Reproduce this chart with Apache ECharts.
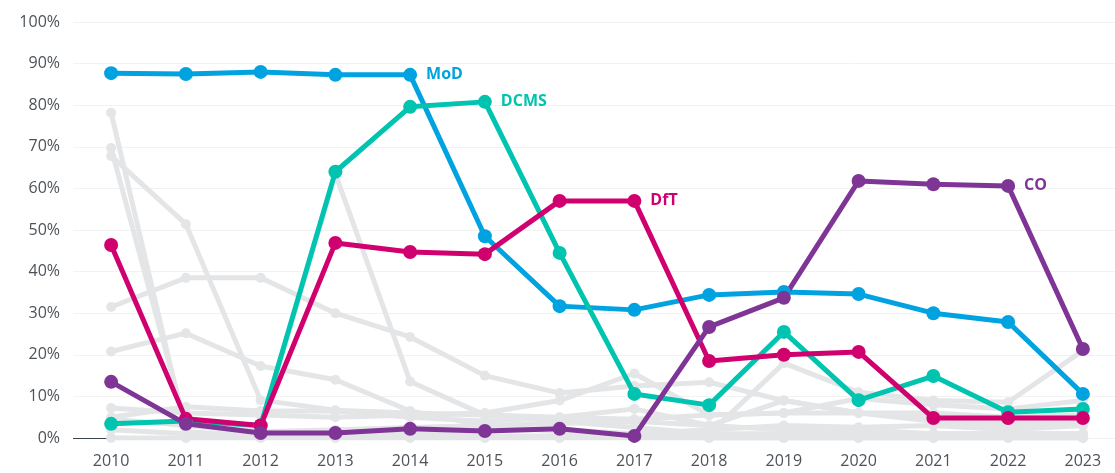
<!DOCTYPE html>
<html><head><meta charset="utf-8">
<script src="https://cdn.jsdelivr.net/npm/echarts@6/dist/echarts.min.js"></script>
<style>html,body{margin:0;padding:0;background:#fff}#c{width:1115px;height:473px}</style>
</head><body><div id="c"></div>
<script>
const years = [2010,2011,2012,2013,2014,2015,2016,2017,2018,2019,2020,2021,2022,2023];
const yTicks = [0,10,20,30,40,50,60,70,80,90,100];

const MoD  = [87.7,87.5,88.0,87.3,87.3,48.5,31.7,30.8,34.4,35.1,34.6,30.0,27.9,10.6];
const DCMS = [3.4,4.1,3.0,64.0,79.6,80.8,44.5,10.6,7.9,25.5,9.1,14.9,6.2,7.0];
const DfT  = [46.4,4.6,3.0,46.9,44.7,44.2,57.0,57.0,18.5,20.0,20.7,4.8,4.8,4.8];
const CO   = [13.5,3.4,1.2,1.2,2.2,1.7,2.2,0.5,26.7,33.7,61.8,61.0,60.6,21.4];

const grey1  = [78.2,1.5,0.5,0.5,1.0,0.5,0.5,0.5,0,0,0,0,0,0];
const grey2  = [69.7,3.0,1.5,2.0,2.5,3.0,3.5,4.0,3.0,2.0,2.0,1.0,1.0,1.0];
const grey3  = [67.8,51.4,9.1,6.7,6.0,5.5,5.0,4.5,5.5,6.0,6.0,5.0,4.0,4.0];
const grey4  = [31.5,38.5,38.5,30.0,24.3,15.0,10.8,12.5,13.4,9.0,6.0,4.0,3.0,3.0];
const grey5  = [20.8,25.2,17.3,14.0,6.5,3.0,1.5,1.0,1.0,1.0,1.0,1.0,1.0,1.0];
const grey6  = [4.5,3.0,2.5,63.5,13.6,5.5,4.0,2.5,1.0,18.0,11.0,9.0,8.6,21.0];
const grey7  = [7.2,6.0,5.5,5.0,5.5,6.0,9.0,15.5,5.5,6.0,9.5,8.0,7.0,9.0];
const grey8  = [5.0,7.5,6.5,6.5,5.0,4.0,5.0,7.0,3.0,9.0,6.0,6.0,5.0,5.5];
const grey9  = [0,0,0,0,0,0,0,0,0,0,0,0,0,0];
const grey10 = [2.0,1.0,1.0,0.5,0.5,2.0,2.0,1.0,2.0,3.0,2.6,3.0,2.0,3.0];
const greys = [grey1,grey2,grey3,grey4,grey5,grey6,grey7,grey8,grey9,grey10];

const FONT = '"Open Sans", "Noto Sans", sans-serif';
const pairs = arr => arr.map((v,i)=>[years[i], v]);

function colored(name, arr, color, labelYear) {
  return {
    name, type: 'line', data: arr.map((v,i)=>{
      const item = {value:[years[i], v]};
      if (years[i] === labelYear) item.label = {show:true, position:'right', distance:9,
        formatter: name, color, fontSize:16, fontWeight:'bold', fontFamily: FONT};
      return item;
    }),
    symbol:'circle', symbolSize:14, lineStyle:{width:5, color}, itemStyle:{color},
    z: 5, animation:false
  };
}

const series = greys.map((g,i)=>({
  name:'g'+i, type:'line', data: pairs(g), symbol:'circle', symbolSize:10,
  lineStyle:{width:5, color:'#e4e5e7'}, itemStyle:{color:'#e4e5e7'}, z:2, animation:false
}));
series[0].markLine = {silent:true, symbol:'none', animation:false, label:{show:false},
  lineStyle:{color:'#3d4650', width:1, type:'solid'},
  data:[[{coord:[2009.49,0]},{coord:[2023.07,0]}]], z:1};
series.push(colored('MoD', MoD, '#00a3e0', 2014));
series.push(colored('DCMS', DCMS, '#00c4b0', 2015));
series.push(colored('DfT', DfT, '#d0006f', 2017));
series.push(colored('CO', CO, '#7f3596', 2022));

const chart = echarts.init(document.getElementById('c'), null, {renderer:'canvas'});
chart.setOption({
  animation:false,
  grid:{left:73, right:0, top:22, bottom:35, containLabel:false},
  xAxis:{type:'value', min:2009.49, max:2023.43,
    axisLine:{show:false}, axisTick:{show:false}, splitLine:{show:false},
    axisLabel:{customValues: years, formatter: v=>String(v), color:'#4d5358', fontSize:16, margin:15, fontFamily:FONT}},
  yAxis:{type:'value', min:0, max:100, interval:10,
    axisLine:{show:false}, axisTick:{show:false},
    splitLine:{lineStyle:{color:'#f2f2f2', width:1}},
    axisLabel:{formatter: v=> yTicks.includes(v) ? v+'%' : '', color:'#4d5358', fontSize:16, margin:13, fontFamily:FONT}},
  series
});
</script></body></html>
